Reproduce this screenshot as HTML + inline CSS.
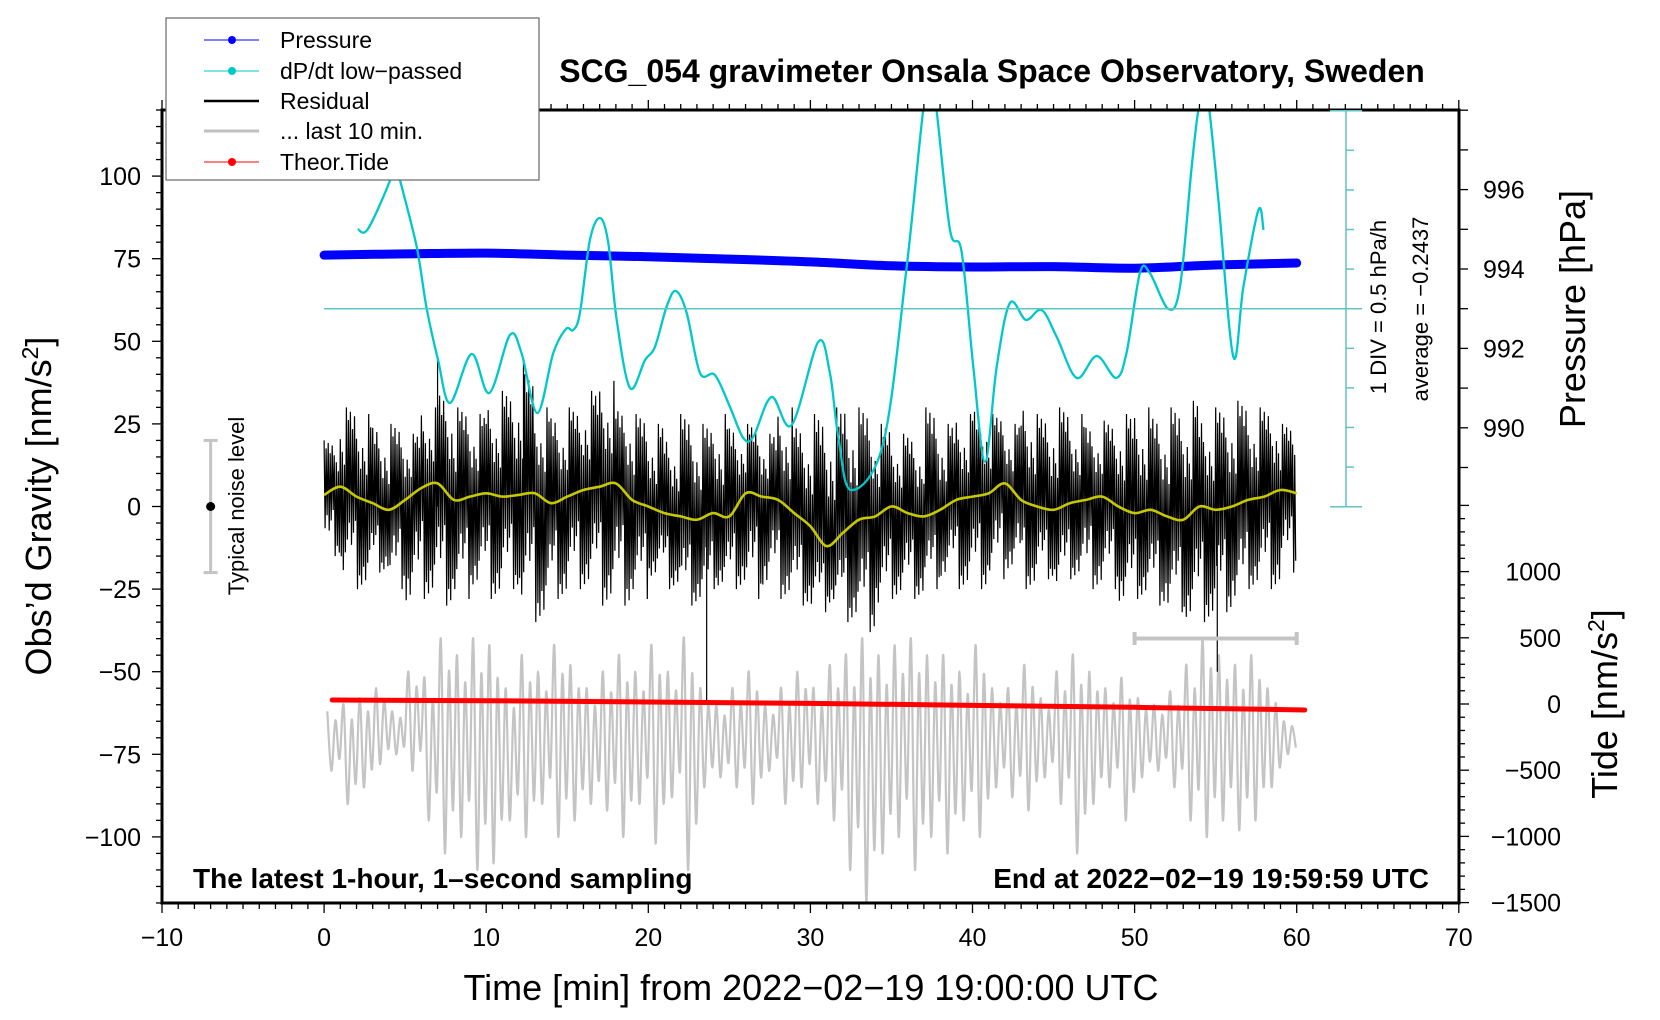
<!DOCTYPE html>
<html><head><meta charset="utf-8"><style>
html,body{margin:0;padding:0;background:#fff;}
svg{display:block;font-family:"Liberation Sans",sans-serif;}
</style></head><body>
<svg id="chart" width="1660" height="1020" viewBox="0 0 1660 1020" xmlns="http://www.w3.org/2000/svg">
<defs><clipPath id="plotclip"><rect x="162" y="110" width="1297" height="793"/></clipPath></defs>
<g id="marks" clip-path="url(#plotclip)"></g>
<g id="axes"></g>
<text x="992" y="82" text-anchor="middle" font-size="32" font-weight="bold">SCG_054 gravimeter Onsala Space Observatory, Sweden</text>
<text transform="translate(51,506) rotate(-90)" text-anchor="middle" font-size="36">Obs’d Gravity [nm/s<tspan dy="-13" font-size="23">2</tspan><tspan dy="13">]</tspan></text>
<text transform="translate(1585,309) rotate(-90)" text-anchor="middle" font-size="36">Pressure [hPa]</text>
<text transform="translate(1617,704) rotate(-90)" text-anchor="middle" font-size="36">Tide [nm/s<tspan dy="-13" font-size="23">2</tspan><tspan dy="13">]</tspan></text>
<text x="811" y="1000" text-anchor="middle" font-size="36">Time [min] from 2022−02−19 19:00:00 UTC</text>
<text transform="translate(1386,307) rotate(-90)" text-anchor="middle" font-size="22">1 DIV = 0.5 hPa/h</text>
<text transform="translate(1428,309) rotate(-90)" text-anchor="middle" font-size="22">average = −0.2437</text>
<text transform="translate(244,506) rotate(-90)" text-anchor="middle" font-size="22">Typical noise level</text>
<text x="193" y="888" font-size="28" font-weight="bold">The latest 1-hour, 1–second sampling</text>
<text x="1429" y="888" text-anchor="end" font-size="28" font-weight="bold">End at 2022−02−19 19:59:59 UTC</text>
<g>
<rect x="166" y="18" width="373" height="162" fill="#fff" stroke="#666" stroke-width="1.2"/>
<g><line x1="204" y1="40" x2="259" y2="40" stroke="#0000ff" stroke-width="1"/><circle cx="232" cy="40" r="4" fill="#0000ff"/><text x="280" y="48" font-size="23">Pressure</text></g>
<g><line x1="204" y1="71" x2="259" y2="71" stroke="#00c8c8" stroke-width="1"/><circle cx="232" cy="71" r="4" fill="#00c8c8"/><text x="280" y="79" font-size="23">dP/dt low−passed</text></g>
<g><line x1="204" y1="101" x2="259" y2="101" stroke="#000" stroke-width="2.5"/><text x="280" y="109" font-size="23">Residual</text></g>
<g><line x1="204" y1="131" x2="259" y2="131" stroke="#c0c0c0" stroke-width="3"/><text x="280" y="139" font-size="23">... last 10 min.</text></g>
<g><line x1="204" y1="162" x2="259" y2="162" stroke="#ff0000" stroke-width="1"/><circle cx="232" cy="162" r="4" fill="#ff0000"/><text x="280" y="170" font-size="23">Theor.Tide</text></g>
</g>
</svg>
<script>
// ---- data ----
const dpdtT = [2.07,2.7,4.08,4.35,4.68,5.71,6.33,7.03,7.77,9.1,10.19,11.46,12.18,13.15,14.14,14.92,15.37,15.78,16.4,17.02,17.53,18.05,18.87,19.8,20.41,21.13,21.7,22.37,23.19,24.11,25.04,25.86,26.47,27.6,28.84,30.48,31.2,31.72,32.5,34.5,35.94,36.96,37.4,37.78,38.61,39.33,40.05,40.77,41.49,42.31,43.3,44.26,45.19,46.42,47.66,48.85,49.5,50.33,50.94,52.08,52.8,53.52,53.93,54.25,54.61,55.17,56.09,56.71,57.64,57.95];
const dpdtV = [0.759,0.763,1.381,1.634,1.381,0.539,-0.244,-0.891,-1.434,-0.816,-1.308,-0.576,-0.803,-1.56,-0.803,-0.5,-0.513,-0.298,0.624,0.901,0.586,-0.386,-1.245,-0.891,-0.727,-0.219,-0.02,-0.298,-1.055,-1.081,-1.485,-1.876,-1.864,-1.359,-1.713,-0.664,-1.055,-1.864,-2.533,-1.939,0.287,2.265,2.644,2.265,0.75,0.476,-0.976,-2.176,-0.976,-0.172,-0.386,-0.26,-0.597,-1.118,-0.841,-1.118,-0.803,0.207,0.207,-0.247,0.034,1.549,2.265,2.581,2.265,1.129,-0.85,0.034,1.003,0.75];
const dpdtAvg = -0.2437;
const pressT = [0,5,10,15,20,25,30,35,40,45,50,55,60];
const pressV = [994.35,994.38,994.40,994.35,994.31,994.25,994.18,994.08,994.05,994.06,994.02,994.10,994.15];
const residHi = [20,30,28,25,25,22,30,35,30,28,32,35,40,30,28,30,35,38,30,28,25,22,28,25,28,25,25,22,30,25,28,30,32,30,25,22,22,30,25,28,30,28,25,32,28,30,28,25,26,28,30,28,30,32,28,30,32,30,30,25,20];
const residLo = [-15,-22,-25,-20,-25,-30,-28,-30,-28,-25,-28,-25,-30,-35,-28,-25,-25,-30,-30,-28,-22,-25,-30,-30,-25,-25,-28,-25,-28,-30,-32,-30,-35,-38,-32,-28,-28,-25,-22,-25,-25,-22,-20,-25,-22,-25,-22,-25,-25,-30,-28,-30,-32,-35,-35,-32,-30,-25,-25,-20,-15];
const smoothV = [3.5,6,3,1,-1,2,5.6,7,2,3,4,3,3.5,4,1,3,5,6,7,2,0,-2,-3,-4,-2,-3,4,3,2,-2,-6,-12,-8,-4,-3,0,-2,-3,-1,2,3,4,7,2,0,-1,1,2,3,0,-2,-1,-3,-4,0,-1,0,2,3,5,4];
const spikeT = [23.6,55.1,7.0,12.3];
const spikeV = [-59,-50,45,44];
const grayHi = [-62,-60,-58,-55,-62,-50,-52,-40,-45,-40,-42,-55,-45,-50,-42,-48,-55,-50,-45,-50,-42,-50,-40,-55,-60,-55,-50,-60,-55,-50,-55,-48,-45,-40,-45,-42,-40,-45,-45,-50,-42,-55,-55,-48,-58,-50,-45,-50,-55,-52,-58,-60,-56,-48,-40,-45,-48,-45,-55,-65];
const grayLo = [-80,-90,-85,-78,-75,-80,-95,-105,-100,-110,-108,-95,-100,-90,-100,-95,-90,-92,-100,-90,-102,-88,-110,-85,-82,-85,-90,-80,-90,-85,-90,-95,-110,-120,-105,-100,-110,-100,-105,-95,-100,-85,-88,-92,-82,-90,-105,-90,-85,-95,-82,-80,-85,-95,-100,-95,-98,-95,-85,-75];
const tideT = [0.5,10,20,30,40,50,60.5];
const tideV = [30,25,15,5,-10,-25,-45];
const xTicks = [-10,0,10,20,30,40,50,60,70];
const yTicks = [-100,-75,-50,-25,0,25,50,75,100];
const pTicks = [990,992,994,996];
const tideTicks = [-1500,-1000,-500,0,500,1000];

// ---- scales ----
const X = t => 324.1 + 16.21 * t;
const Y = v => 506.5 - 3.304 * v;
const P = p => 269 - (p - 994) * 39.7;
const TD = v => 704 - 0.1324 * v;
const DP = v => 308.7 - (v - dpdtAvg) / 0.5 * 39.6;

const NS = 'http://www.w3.org/2000/svg';
const marks = document.getElementById('marks');
const axes = document.getElementById('axes');
function mk(tag, attrs, parent) {
  const e = document.createElementNS(NS, tag);
  for (const k in attrs) e.setAttribute(k, attrs[k]);
  parent.appendChild(e);
  return e;
}
function smoothPath(pts) {
  let d = 'M' + pts[0][0].toFixed(1) + ',' + pts[0][1].toFixed(1);
  for (let i = 0; i < pts.length - 1; i++) {
    const p0 = pts[Math.max(0, i - 1)], p1 = pts[i], p2 = pts[i + 1], p3 = pts[Math.min(pts.length - 1, i + 2)];
    const c1x = p1[0] + (p2[0] - p0[0]) / 6, c1y = p1[1] + (p2[1] - p0[1]) / 6;
    const c2x = p2[0] - (p3[0] - p1[0]) / 6, c2y = p2[1] - (p3[1] - p1[1]) / 6;
    d += ' C' + c1x.toFixed(1) + ',' + c1y.toFixed(1) + ' ' + c2x.toFixed(1) + ',' + c2y.toFixed(1) + ' ' + p2[0].toFixed(1) + ',' + p2[1].toFixed(1);
  }
  return d;
}

// gray last 10 min
const gpts = [];
for (let i = 0; i < grayHi.length; i++) {
  const mid = (grayHi[i] + grayLo[i]) / 2;
  gpts.push([X(i + 0.2), Y(grayHi[i])]);
  gpts.push([X(i + 0.45), Y(grayLo[i])]);
  gpts.push([X(i + 0.7), Y(mid + (grayHi[i] - mid) * 0.7)]);
  gpts.push([X(i + 0.95), Y(mid + (grayLo[i] - mid) * 0.6)]);
}
const gray = mk('path', {d: smoothPath(gpts), fill: 'none', stroke: '#c4c4c4', 'stroke-width': 2.2}, marks);



// residual
const fac = [1, 0.55, 0.85, 0.35, 0.95, 0.6, 0.75, 0.45, 0.9, 0.3, 0.7];
let rd = '';
const N = 16;
for (let i = 0; i < residHi.length - 1; i++) {
  for (let k = 0; k < N; k++) {
    const t = i + k / N;
    const base = smoothV[i] + (smoothV[i + 1] - smoothV[i]) * k / N;
    const f = fac[(i * 5 + k) % fac.length];
    const v = k % 2 === 0 ? base + (residHi[i] - base) * f : base + (residLo[i] - base) * f;
    rd += (rd ? ' L' : 'M') + X(t).toFixed(1) + ',' + Y(v).toFixed(1);
  }
}
const resid = mk('path', {d: rd, fill: 'none', stroke: '#000', 'stroke-width': 1.2}, marks);


for (let i = 0; i < spikeT.length; i++) {
  const s = mk('line', {x1: X(spikeT[i]), x2: X(spikeT[i]), y1: Y(0), y2: Y(spikeV[i]), stroke: '#000', 'stroke-width': 1.2}, marks);
  
  
}

// smoothed residual (yellow)
const spts = smoothV.map((v, i) => [X(i), Y(v)]);
const sm = mk('path', {d: smoothPath(spts), fill: 'none', stroke: '#c8c800', 'stroke-width': 2.6}, marks);



// tide
const tpts = tideT.map((t, i) => [X(t), TD(tideV[i])]);
const tide = mk('polyline', {points: tpts.map(p => p.join(',')).join(' '), fill: 'none', stroke: '#ff0000', 'stroke-width': 5, 'stroke-linecap': 'round'}, marks);



// pressure band
const ppts = pressT.map((t, i) => [X(t), P(pressV[i])]);
const pr = mk('path', {d: smoothPath(ppts), fill: 'none', stroke: '#0000ff', 'stroke-width': 9, 'stroke-linecap': 'round'}, marks);


for (let i = 0; i < pressT.length; i++) {
  const c = mk('circle', {cx: X(pressT[i]), cy: P(pressV[i]), r: 3.5, fill: '#0000ff'}, marks);
  
  
}

// dP/dt zero line and curve
const zl = mk('line', {x1: X(0), x2: 1362, y1: DP(dpdtAvg), y2: DP(dpdtAvg), stroke: '#5fc4c4', 'stroke-width': 1.5}, axes);


const dpts = dpdtT.map((t, i) => [X(t), DP(dpdtV[i])]);
const dp = mk('path', {d: smoothPath(dpts), fill: 'none', stroke: '#00c8c8', 'stroke-width': 2.3}, marks);



// noise bar & last 10 min bar
const nb = mk('g', {stroke: '#c4c4c4', 'stroke-width': 3}, marks);


mk('line', {x1: X(-7), x2: X(-7), y1: Y(20), y2: Y(-20)}, nb);
mk('line', {x1: X(-7) - 7, x2: X(-7) + 7, y1: Y(20), y2: Y(20)}, nb);
mk('line', {x1: X(-7) - 7, x2: X(-7) + 7, y1: Y(-20), y2: Y(-20)}, nb);
mk('circle', {cx: X(-7), cy: Y(0), r: 4.5, fill: '#000', stroke: 'none'}, nb);
const lb = mk('g', {stroke: '#c4c4c4', 'stroke-width': 4}, marks);


mk('line', {x1: X(50), x2: X(60), y1: 638.5, y2: 638.5}, lb);
mk('line', {x1: X(50), x2: X(50), y1: 632, y2: 645}, lb);
mk('line', {x1: X(60), x2: X(60), y1: 632, y2: 645}, lb);

// ---- axes ----
const L = 162, R = 1459, T = 110, B = 903;
mk('rect', {x: L, y: T, width: R - L, height: B - T, fill: 'none', stroke: '#000', 'stroke-width': 3}, axes);
for (let m = -10; m <= 70; m++) {
  const major = m % 10 === 0;
  const len = major ? 10 : 6;
  mk('line', {x1: X(m), x2: X(m), y1: B, y2: B + len, stroke: '#000', 'stroke-width': 1.3}, axes);
  mk('line', {x1: X(m), x2: X(m), y1: T, y2: T - len, stroke: '#000', 'stroke-width': 1.3}, axes);
}
xTicks.forEach(v => {
  const t = mk('text', {x: X(v), y: 946, 'text-anchor': 'middle', 'font-size': 25}, axes);
  t.textContent = v < 0 ? '−' + Math.abs(v) : v;
  
  
});
for (let v = -120; v <= 120; v += 5) {
  const major = v % 25 === 0;
  mk('line', {x1: L, x2: L - (major ? 10 : 6), y1: Y(v), y2: Y(v), stroke: '#000', 'stroke-width': 1.3}, axes);
}
yTicks.forEach(v => {
  const t = mk('text', {x: 141, y: Y(v) + 9, 'text-anchor': 'end', 'font-size': 25}, axes);
  t.textContent = v < 0 ? '−' + Math.abs(v) : v;
  
  
});
for (let p = 988; p <= 998; p++) {
  if (P(p) < T || P(p) > 506) continue;
  mk('line', {x1: R, x2: R + 9, y1: P(p), y2: P(p), stroke: '#000', 'stroke-width': 1.3}, axes);
}
pTicks.forEach(v => {
  const t = mk('text', {x: 1483, y: P(v) + 9, 'font-size': 25}, axes);
  t.textContent = v;
  
  
});
for (let v = -1500; v <= 1500; v += 100) {
  const major = v % 500 === 0;
  mk('line', {x1: R, x2: R + (major ? 10 : 6), y1: TD(v), y2: TD(v), stroke: '#000', 'stroke-width': 1.3}, axes);
}
tideTicks.forEach(v => {
  const t = mk('text', {x: 1561, y: TD(v) + 9, 'text-anchor': 'end', 'font-size': 25}, axes);
  t.textContent = v < 0 ? '−' + Math.abs(v) : v;
  
  
});
// dP/dt scale axis
const dA = mk('g', {stroke: '#5fc4c4', 'stroke-width': 1.5}, axes);


mk('line', {x1: 1346, x2: 1346, y1: DP(dpdtAvg + 2.5), y2: DP(dpdtAvg - 2.5)}, dA);
for (let k = -5; k <= 5; k++) {
  const y = DP(dpdtAvg + k * 0.5);
  if (Math.abs(k) === 5) mk('line', {x1: 1330, x2: 1362, y1: y, y2: y}, dA);
  else if (k !== 0) mk('line', {x1: 1346, x2: 1354, y1: y, y2: y}, dA);
}
</script>
</body></html>
